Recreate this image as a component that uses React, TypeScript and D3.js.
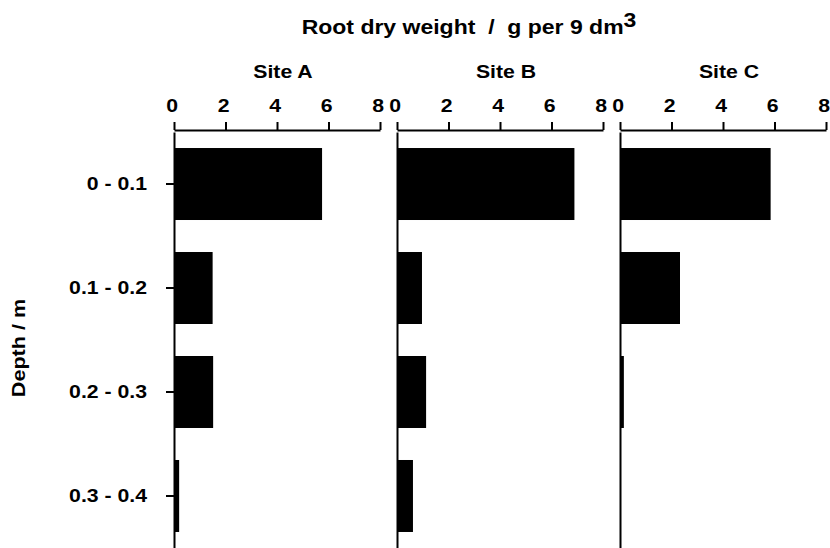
import React, { useRef, useEffect } from "react";
import * as d3 from "d3";

// depth classes (m) and root dry weight (g per 9 dm3) for each site
const depths = ["0 - 0.1", "0.1 - 0.2", "0.2 - 0.3", "0.3 - 0.4"];
const sites = ["Site A", "Site B", "Site C"];
const siteA = [5.75, 1.5, 1.52, 0.2];
const siteB = [6.89, 0.97, 1.13, 0.62];
const siteC = [5.85, 2.33, 0.15, 0];
const weightTicks = [0, 2, 4, 6, 8];

const FONT = "'Liberation Sans', Arial, Helvetica, sans-serif";
const STRETCH = "scale(1.18,1)";

const App = () => {
  const svgRef = useRef<SVGSVGElement>(null);

  useEffect(() => {
    const W = 830;
    const H = 548;
    const axisY = 130;
    const panelLeft = [174, 397, 620];
    const panelWidth = 206;
    const values = [siteA, siteB, siteC];

    const svg = d3.select(svgRef.current).attr("width", W).attr("height", H);
    svg.selectAll("*").remove();

    const y = d3
      .scaleBand()
      .domain(depths)
      .range([132, 548])
      .paddingInner(0.3077)
      .paddingOuter(0.154);

    // overall title
    const title = svg
      .append("text")
      .attr("transform", `translate(469,34) ${STRETCH}`)
      .attr("text-anchor", "middle")
      .attr("font-family", FONT)
      .attr("font-weight", "bold")
      .attr("font-size", 19.5)
      .style("white-space", "pre")
      .attr("fill", "#000");
    title.append("tspan").text("Root dry weight  /  g per 9 dm");
    title.append("tspan").attr("dy", -7).text("3");

    // y title
    svg
      .append("text")
      .attr("transform", `translate(25,348) rotate(-90) scale(1.2,1)`)
      .attr("text-anchor", "middle")
      .attr("font-family", FONT)
      .attr("font-weight", "bold")
      .attr("font-size", 18)
      .text("Depth / m");

    sites.forEach((site, i) => {
      const x = d3
        .scaleLinear()
        .domain([0, 8])
        .range([panelLeft[i], panelLeft[i] + panelWidth]);

      const g = svg.append("g");

      // bars
      g.selectAll(".bar")
        .data(depths)
        .enter()
        .append("rect")
        .attr("class", "bar")
        .attr("x", x(0))
        .attr("y", (d) => y(d))
        .attr("width", (d, j) => x(values[i][j]) - x(0))
        .attr("height", y.bandwidth())
        .attr("fill", "#000");

      // top axis
      const ax = g
        .append("g")
        .attr("transform", `translate(0,${axisY})`)
        .call(
          d3
            .axisTop(x)
            .tickValues(weightTicks)
            .tickSize(8)
            .tickSizeOuter(0)
            .tickPadding(10)
            .tickFormat(d3.format("d"))
        );
      ax.select(".domain").attr("stroke-width", 2);
      ax.selectAll(".tick line").attr("stroke-width", 2);
      ax.selectAll(".tick text")
        .attr("x", -2)
        .attr("transform", STRETCH)
        .attr("font-family", FONT)
        .attr("font-weight", "bold")
        .attr("font-size", 18)
        .attr("fill", "#000");

      // vertical axis line
      const ay = g
        .append("g")
        .attr("transform", `translate(${x(0)},0)`)
        .call(d3.axisLeft(y).tickSize(i === 0 ? 8 : 0).tickSizeOuter(0));
      ay.select(".domain").attr("stroke-width", 2);
      ay.selectAll(".tick line").attr("stroke-width", 2);
      if (i === 0) {
        ay.selectAll(".tick text")
          .attr("x", 0)
          .attr("transform", `translate(-27,0) ${STRETCH}`)
          .attr("font-family", FONT)
          .attr("font-weight", "bold")
          .attr("font-size", 18)
          .attr("fill", "#000");
      } else {
        ay.selectAll(".tick text").remove();
      }

      // panel label
      svg
        .append("text")
        .attr("transform", `translate(${x(4) + 6},78) ${STRETCH}`)
        .attr("text-anchor", "middle")
        .attr("font-family", FONT)
        .attr("font-weight", "bold")
        .attr("font-size", 18)
        .text(site);
    });
  }, []);

  return (
    <svg
      ref={svgRef}
      style={{ position: "absolute", left: 0, top: 0, background: "#fff" }}
    ></svg>
  );
};

export default App;
